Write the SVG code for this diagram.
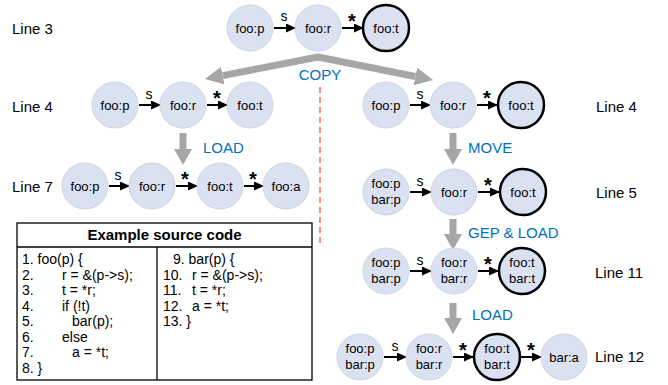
<svg xmlns="http://www.w3.org/2000/svg" width="668" height="385" viewBox="0 0 668 385">
<style>
.n{fill:#DAE1F1;stroke:#CDD3DF;stroke-width:1}
.b{fill:#DAE1F1;stroke:#000;stroke-width:2.5}
.t{font-family:"Liberation Sans",Arial,sans-serif;font-size:13px;fill:#000;text-anchor:middle}
.lbl{font-family:"Liberation Sans",Arial,sans-serif;font-size:15px;fill:#000}
.op{font-family:"Liberation Sans",Arial,sans-serif;font-size:15px;fill:#0070C0}
.s{font-family:"Liberation Sans",Arial,sans-serif;font-size:14px;fill:#000;text-anchor:middle}
.st{font-family:"Liberation Sans",Arial,sans-serif;font-size:20px;font-weight:bold;fill:#000;text-anchor:middle}
.e{stroke:#000;stroke-width:2;fill:none;marker-end:url(#ah)}
.g{fill:#A6A6A6}
.code{font-family:"Liberation Sans",Arial,sans-serif;font-size:14px;fill:#000}
</style>
<defs>
<marker id="ah" markerUnits="userSpaceOnUse" markerWidth="10" markerHeight="10" refX="9" refY="4.5" orient="auto">
<path d="M0,0 L10,4.5 L0,9 z" fill="#000"/>
</marker>
<marker id="gh" markerUnits="userSpaceOnUse" markerWidth="20" markerHeight="20" refX="0" refY="9" orient="auto-start-reverse">
<path d="M0,0 L18,9 L0,18 z" fill="#A6A6A6"/>
</marker>
</defs>
<rect width="668" height="385" fill="#fff"/>

<!-- row labels -->
<g id="labels">
<text class="lbl" x="12" y="34">Line 3</text>
<text class="lbl" x="12" y="112">Line 4</text>
<text class="lbl" x="12" y="192">Line 7</text>
<text class="lbl" x="596" y="112">Line 4</text>
<text class="lbl" x="596" y="198">Line 5</text>
<text class="lbl" x="595" y="278">Line 11</text>
<text class="lbl" x="595" y="362">Line 12</text>
</g>

<!-- big gray arrows and separators -->
<g id="connectors">
<polyline points="222.7,75.6 318,57 415.4,76.5" fill="none" stroke="#A6A6A6" stroke-width="7" stroke-linejoin="round" marker-start="url(#gh)" marker-end="url(#gh)"/>
<polygon class="g" points="179.5,133 186.5,133 186.5,149 192,149 183,165 174,149 179.5,149"/>
<polygon class="g" points="449.5,133 456.5,133 456.5,149 462,149 453,165 444,149 449.5,149"/>
<polygon class="g" points="449.5,219 456.5,219 456.5,234 462,234 453,250 444,234 449.5,234"/>
<polygon class="g" points="449.5,303 456.5,303 456.5,318 462,318 453,334 444,318 449.5,318"/>
<line x1="320" y1="87" x2="320" y2="246" stroke="#FF4B4B" stroke-width="1.3" stroke-dasharray="6,4"/>

<!-- small edges -->
<line class="e" x1="274" y1="28" x2="295" y2="28"/>
<line class="e" x1="342" y1="28" x2="363" y2="28"/>
<line class="e" x1="139" y1="105" x2="160" y2="105"/>
<line class="e" x1="207" y1="105" x2="227" y2="105"/>
<line class="e" x1="410" y1="105" x2="430" y2="105"/>
<line class="e" x1="477" y1="105" x2="497" y2="105"/>
<line class="e" x1="109" y1="186" x2="129" y2="186"/>
<line class="e" x1="176" y1="186" x2="197" y2="186"/>
<line class="e" x1="244" y1="186" x2="263" y2="186"/>
<line class="e" x1="410" y1="192" x2="431" y2="192"/>
<line class="e" x1="478" y1="192" x2="499" y2="192"/>
<line class="e" x1="410" y1="271" x2="431" y2="271"/>
<line class="e" x1="478" y1="271" x2="498" y2="271"/>
<line class="e" x1="384" y1="357" x2="406" y2="357"/>
<line class="e" x1="453" y1="357" x2="473" y2="357"/>
<line class="e" x1="521" y1="357" x2="541" y2="357"/>
</g>

<g id="edge-labels">
<text class="s" x="284" y="21">s</text>
<text class="st" x="352" y="28">*</text>
<text class="s" x="149" y="99">s</text>
<text class="st" x="217" y="105">*</text>
<text class="s" x="420" y="99">s</text>
<text class="st" x="487" y="105">*</text>
<text class="s" x="118" y="180">s</text>
<text class="st" x="185" y="186">*</text>
<text class="st" x="253" y="186">*</text>
<text class="s" x="420" y="186">s</text>
<text class="st" x="488" y="192">*</text>
<text class="s" x="420" y="265">s</text>
<text class="st" x="488" y="271">*</text>
<text class="s" x="395" y="351">s</text>
<text class="st" x="463" y="357">*</text>
<text class="st" x="531" y="357">*</text>
</g>

<g id="ops">
<text class="op" x="320" y="80" text-anchor="middle">COPY</text>
<text class="op" x="203" y="153">LOAD</text>
<text class="op" x="468" y="153">MOVE</text>
<text class="op" x="468" y="238">GEP &amp; LOAD</text>
<text class="op" x="472" y="320">LOAD</text>
</g>

<!-- Line 3 -->
<g id="l3-foo-p"><circle class="n" cx="250" cy="28" r="23"/><text class="t" x="250" y="33">foo:p</text></g>
<g id="l3-foo-r"><circle class="n" cx="318" cy="28" r="23"/><text class="t" x="318" y="33">foo:r</text></g>
<g id="l3-foo-t"><circle class="b" cx="386" cy="28" r="23"/><text class="t" x="386" y="33">foo:t</text></g>

<!-- Line 4 left -->
<g id="l4a-foo-p"><circle class="n" cx="115" cy="105" r="23"/><text class="t" x="115" y="110">foo:p</text></g>
<g id="l4a-foo-r"><circle class="n" cx="183" cy="105" r="23"/><text class="t" x="183" y="110">foo:r</text></g>
<g id="l4a-foo-t"><circle class="n" cx="250" cy="105" r="23"/><text class="t" x="250" y="110">foo:t</text></g>

<!-- Line 4 right -->
<g id="l4b-foo-p"><circle class="n" cx="386" cy="105" r="23"/><text class="t" x="386" y="110">foo:p</text></g>
<g id="l4b-foo-r"><circle class="n" cx="453" cy="105" r="23"/><text class="t" x="453" y="110">foo:r</text></g>
<g id="l4b-foo-t"><circle class="b" cx="521" cy="105" r="23"/><text class="t" x="521" y="110">foo:t</text></g>

<!-- Line 7 -->
<g id="l7-foo-p"><circle class="n" cx="85" cy="186" r="23"/><text class="t" x="85" y="191">foo:p</text></g>
<g id="l7-foo-r"><circle class="n" cx="152" cy="186" r="23"/><text class="t" x="152" y="191">foo:r</text></g>
<g id="l7-foo-t"><circle class="n" cx="220" cy="186" r="23"/><text class="t" x="220" y="191">foo:t</text></g>
<g id="l7-foo-a"><circle class="n" cx="286" cy="186" r="23"/><text class="t" x="286" y="191">foo:a</text></g>

<!-- Line 5 -->
<g id="l5-p"><circle class="n" cx="386" cy="192" r="23"/><text class="t" x="386" y="188">foo:p</text><text class="t" x="386" y="204">bar:p</text></g>
<g id="l5-r"><circle class="n" cx="454" cy="192" r="23"/><text class="t" x="454" y="197">foo:r</text></g>
<g id="l5-t"><circle class="b" cx="523" cy="192" r="23"/><text class="t" x="523" y="197">foo:t</text></g>

<!-- Line 11 -->
<g id="l11-p"><circle class="n" cx="386" cy="271" r="23"/><text class="t" x="386" y="267">foo:p</text><text class="t" x="386" y="283">bar:p</text></g>
<g id="l11-r"><circle class="n" cx="454" cy="271" r="23"/><text class="t" x="454" y="267">foo:r</text><text class="t" x="454" y="283">bar:r</text></g>
<g id="l11-t"><circle class="b" cx="522" cy="271" r="23"/><text class="t" x="522" y="267">foo:t</text><text class="t" x="522" y="283">bar:t</text></g>

<!-- Line 12 -->
<g id="l12-p"><circle class="n" cx="360" cy="357" r="23"/><text class="t" x="360" y="353">foo:p</text><text class="t" x="360" y="369">bar:p</text></g>
<g id="l12-r"><circle class="n" cx="429" cy="357" r="23"/><text class="t" x="429" y="353">foo:r</text><text class="t" x="429" y="369">bar:r</text></g>
<g id="l12-t"><circle class="b" cx="497" cy="357" r="23"/><text class="t" x="497" y="353">foo:t</text><text class="t" x="497" y="369">bar:t</text></g>
<g id="l12-a"><circle class="n" cx="564" cy="357" r="23"/><text class="t" x="564" y="362">bar:a</text></g>

<!-- source code table -->
<g id="code-table">
<rect x="17" y="223" width="295" height="157" fill="#fff" stroke="#000" stroke-width="1.3"/>
<line x1="17" y1="247" x2="312" y2="247" stroke="#000" stroke-width="1.3"/>
<line x1="157" y1="247" x2="157" y2="380" stroke="#000" stroke-width="1.3"/>
<text x="164.5" y="240" font-family="Liberation Sans, Arial, sans-serif" font-size="15" font-weight="bold" text-anchor="middle">Example source code</text>
<text class="code" x="22" y="264">1. foo(p) {</text>
<text class="code" x="22" y="279.5">2.</text><text class="code" x="62" y="279.5">r = &amp;(p-&gt;s);</text>
<text class="code" x="22" y="295">3.</text><text class="code" x="62" y="295">t = *r;</text>
<text class="code" x="22" y="310.5">4.</text><text class="code" x="62" y="310.5">if (!t)</text>
<text class="code" x="22" y="326">5.</text><text class="code" x="72" y="326">bar(p);</text>
<text class="code" x="22" y="341.5">6.</text><text class="code" x="62" y="341.5">else</text>
<text class="code" x="22" y="357">7.</text><text class="code" x="72" y="357">a = *t;</text>
<text class="code" x="22" y="372.5">8. }</text>
<text class="code" x="173" y="264">9. bar(p) {</text>
<text class="code" x="163" y="279.5">10.</text><text class="code" x="192" y="279.5">r = &amp;(p-&gt;s);</text>
<text class="code" x="163" y="295">11.</text><text class="code" x="192" y="295">t = *r;</text>
<text class="code" x="163" y="310.5">12.</text><text class="code" x="192" y="310.5">a = *t;</text>
<text class="code" x="163" y="326">13. }</text>
</g>
</svg>
